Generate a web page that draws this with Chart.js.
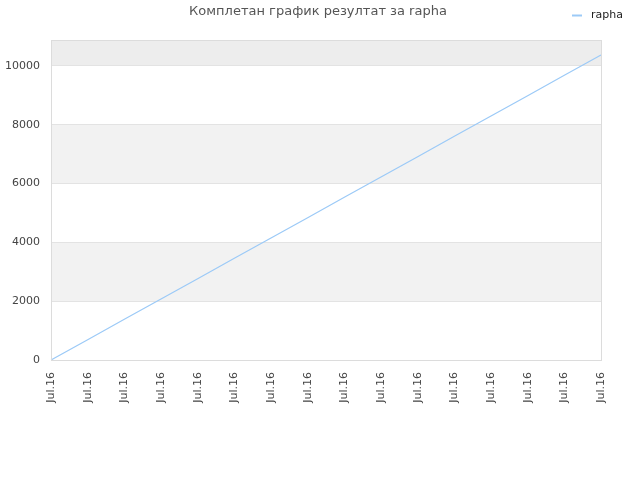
<!DOCTYPE html>
<html>
<head>
<meta charset="utf-8">
<script src="https://cdn.jsdelivr.net/npm/chart.js@4/dist/chart.umd.min.js"></script>
<style>
  html, body { margin: 0; padding: 0; background: #fff; }
  #wrap { width: 640px; height: 480px; }
</style>
</head>
<body>
<div id="wrap"><canvas id="chart"></canvas></div>
<script>
const chartTitle = "Комплетан график резултат за rapha";
const seriesName = "rapha";
const labels = ["Jul.16", "Jul.16", "Jul.16", "Jul.16", "Jul.16", "Jul.16", "Jul.16", "Jul.16",
                "Jul.16", "Jul.16", "Jul.16", "Jul.16", "Jul.16", "Jul.16", "Jul.16", "Jul.16"];
const values = [0, 691, 1383, 2074, 2765, 3457, 4148, 4839, 5531, 6222, 6913, 7605, 8296, 8987, 9679, 10370];
const yTicks = [0, 2000, 4000, 6000, 8000, 10000];
const yMax = 10880;

const fontFamily = "'DejaVu Sans', sans-serif";

// grey stripes behind the plot + frame, title and legend
const bands = {
    id: "bands",
    beforeDraw(chart) {
        const { ctx, chartArea: a, scales: { y } } = chart;
        ctx.save();
        const stripes = [[2000, 4000, "#f2f2f2"], [6000, 8000, "#f2f2f2"], [10000, yMax, "#ededed"]];
        stripes.forEach(([lo, hi, c]) => {
            const top = y.getPixelForValue(hi);
            const bot = y.getPixelForValue(lo);
            ctx.fillStyle = c;
            ctx.fillRect(a.left, top, a.right - a.left, bot - top);
        });
        ctx.restore();
    },
    afterDraw(chart) {
        const { ctx, chartArea: a } = chart;
        ctx.save();
        ctx.strokeStyle = "#dcdcdc";
        ctx.lineWidth = 1;
        ctx.strokeRect(a.left + 0.5, a.top + 0.5, a.right - a.left, a.bottom - a.top);

        // title
        ctx.fillStyle = "#555";
        ctx.font = "13px " + fontFamily;
        ctx.textAlign = "center";
        ctx.textBaseline = "middle";
        ctx.fillText(chartTitle, 318, 12);

        // legend
        ctx.strokeStyle = "#9ccaf7";
        ctx.lineWidth = 2;
        ctx.beginPath();
        ctx.moveTo(572, 15.5);
        ctx.lineTo(582, 15.5);
        ctx.stroke();
        ctx.fillStyle = "#222";
        ctx.font = "11px " + fontFamily;
        ctx.textAlign = "left";
        ctx.fillText(seriesName, 591, 15);
        ctx.restore();
    }
};

new Chart(document.getElementById("chart"), {
    type: "line",
    data: {
        labels: labels,
        datasets: [{
            label: seriesName,
            data: values,
            borderColor: "#9ccaf7",
            borderWidth: 1.2,
            pointRadius: 0,
            tension: 0,
            fill: false
        }]
    },
    options: {
        responsive: true,
        maintainAspectRatio: false,
        animation: false,
        layout: { padding: { top: 40, right: 39, left: 0, bottom: 0 } },
        plugins: {
            legend: { display: false },
            title: { display: false },
            tooltip: { enabled: false }
        },
        scales: {
            x: {
                grid: { display: false, drawTicks: false },
                border: { display: false },
                ticks: {
                    color: "#444",
                    font: { family: fontFamily, size: 11 },
                    minRotation: 90,
                    maxRotation: 90,
                    autoSkip: false,
                    padding: 12
                },
                afterFit(scale) { scale.height = 120; }
            },
            y: {
                min: 0,
                max: yMax,
                grid: { color: "#e3e3e3", drawTicks: false },
                border: { display: false },
                ticks: {
                    color: "#444",
                    font: { family: fontFamily, size: 11 },
                    padding: 11,
                    autoSkip: false,
                    callback: (v) => String(v)
                },
                afterBuildTicks(scale) {
                    scale.ticks = yTicks.map(v => ({ value: v }));
                },
                afterFit(scale) { scale.width = 51; }
            }
        }
    },
    plugins: [bands]
});
</script>
</body>
</html>
